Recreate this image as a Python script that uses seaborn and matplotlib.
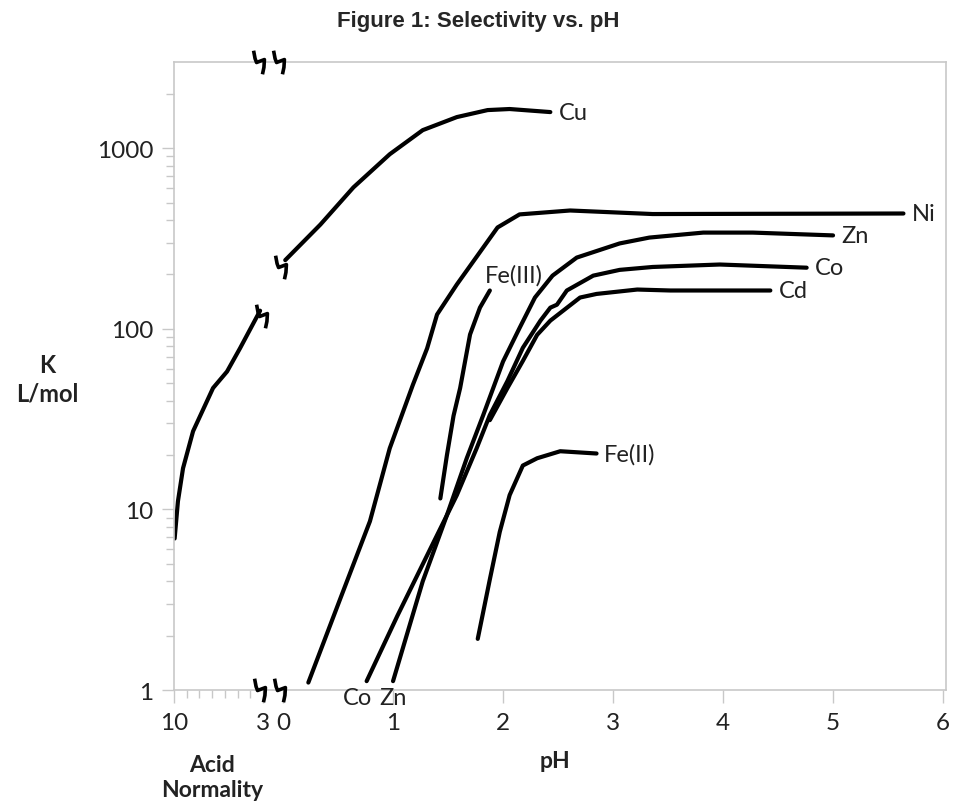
import numpy as np
import pandas as pd
import matplotlib
matplotlib.use("Agg")
import matplotlib.pyplot as plt
from matplotlib.path import Path
from matplotlib.ticker import FixedLocator, NullFormatter
import seaborn as sns

# Cu in strong acid (left strip, x = acid normality)
cu_acid_normality = [9.95, 9.69, 9.29, 8.5, 6.93, 5.83, 4.81, 3.23]
cu_acid_k = [6.9, 11.1, 16.9, 27.1, 47, 58, 78, 126]

# curves vs pH
cu_ph = [0.02, 0.34, 0.64, 0.97, 1.27, 1.58, 1.86, 2.06, 2.43]
cu_k = [240, 378, 607, 926, 1259, 1487, 1626, 1648, 1585]

ni_ph = [0.23, 0.52, 0.79, 0.97, 1.18, 1.31, 1.40, 1.58, 1.82, 1.95, 2.15, 2.61, 3.36, 5.64]
ni_k = [1.1, 3.2, 8.6, 21.8, 48.9, 78, 120, 176, 282, 364, 430, 452, 432, 435]

fe3_ph = [1.43, 1.49, 1.55, 1.61, 1.70, 1.79, 1.88]
fe3_k = [11.5, 20, 33, 47, 93, 131, 163]

zn_ph = [1.0, 1.27, 1.49, 1.67, 1.82, 2.0, 2.15, 2.29, 2.45, 2.67, 3.06, 3.33, 3.82, 4.27, 5.0]
zn_k = [1.12, 4.0, 9.3, 19.2, 33.3, 65.9, 101, 149, 197, 248, 297, 320, 341, 341, 329]

co_ph = [0.76, 1.04, 1.34, 1.58, 1.76, 1.88, 2.04, 2.18, 2.34, 2.43, 2.49, 2.58, 2.82, 3.06, 3.36, 3.97, 4.76]
co_k = [1.12, 2.58, 6.07, 12.0, 21.8, 33.3, 51.4, 78.5, 111, 131, 136, 163, 197, 212, 220, 227, 218]

cd_ph = [1.88, 2.04, 2.18, 2.31, 2.43, 2.7, 2.85, 3.22, 3.52, 4.43]
cd_k = [31.2, 47, 66.4, 92.6, 111, 149, 156, 165, 163, 163]

fe2_ph = [1.77, 1.88, 1.97, 2.06, 2.18, 2.31, 2.52, 2.85]
fe2_k = [1.92, 4.1, 7.5, 12, 17.5, 19.2, 21, 20.4]

ph_ticks = [0, 1, 2, 3, 4, 5, 6]
normality_ticks = [10, 9, 8, 7, 6, 5, 4, 3]


def norm_to_x(n):
    # acid normality 10..3 squeezed into the strip left of pH 0
    return -0.182 - (np.asarray(n, dtype=float) - 3) * 0.1156


segments = [
    ("Cu acid", norm_to_x(cu_acid_normality), cu_acid_k),
    ("Cu", cu_ph, cu_k),
    ("Ni", ni_ph, ni_k),
    ("Fe(III)", fe3_ph, fe3_k),
    ("Zn", zn_ph, zn_k),
    ("Co", co_ph, co_k),
    ("Cd", cd_ph, cd_k),
    ("Fe(II)", fe2_ph, fe2_k),
]
df = pd.concat([pd.DataFrame({"seg": s, "x": xs, "K": ks}) for s, xs, ks in segments],
               ignore_index=True)

sns.set_style("white")
plt.rcParams["font.family"] = ["Lato", "DejaVu Sans"]

fig = plt.figure(figsize=(9.55, 8.04), dpi=100)
ax = fig.add_axes([0.1822, 0.1405, 0.8084, 0.7811])

sns.lineplot(data=df, x="x", y="K", units="seg", estimator=None, sort=False,
             color="black", lw=3, solid_capstyle="round", solid_joinstyle="round",
             legend=False, ax=ax)

ax.set_yscale("log")
ax.set_ylim(1, 3000)
ax.set_xlim(float(norm_to_x(10)), 6.027)
ax.set_xlabel("")
ax.set_ylabel("")

grey = "#c8c8c8"
for sp in ax.spines.values():
    sp.set_visible(True)
    sp.set_color(grey)
    sp.set_linewidth(1.2)

ax.yaxis.set_major_locator(FixedLocator([1, 10, 100, 1000]))
ax.set_yticklabels(["1", "10", "100", "1000"])
minor_y = [k * 10 ** d for d in range(4) for k in range(2, 10) if k * 10 ** d < 3000]
ax.yaxis.set_minor_locator(FixedLocator(minor_y))
ax.yaxis.set_minor_formatter(NullFormatter())

major_x = list(norm_to_x([normality_ticks[0], normality_ticks[-1]])) + ph_ticks
ax.xaxis.set_major_locator(FixedLocator(major_x))
ax.set_xticklabels([str(normality_ticks[0]), str(normality_ticks[-1])] + [str(t) for t in ph_ticks])
ax.xaxis.set_minor_locator(FixedLocator(norm_to_x(normality_ticks[1:-1])))
ax.xaxis.set_minor_formatter(NullFormatter())

ax.tick_params(axis="both", which="both", bottom=True, left=True, top=False, right=False)
ax.tick_params(axis="both", which="major", direction="out", length=9, width=1,
               color=grey, labelsize=17.5, labelcolor="#222222")
ax.tick_params(axis="both", which="minor", direction="out", length=6, width=1, color=grey)
ax.tick_params(axis="y", which="major", pad=6)
ax.tick_params(axis="x", which="major", pad=7)

# hand-drawn break squiggle as a marker
squig = Path([(-6, 12), (-4.5, 4), (-3, 0), (5, 3), (4.5, -5), (3, -12)])


def brk(x, y):
    ax.plot([x], [y], marker=squig, ms=17, mfc="none", mec="black", mew=2.6,
            ls="none", clip_on=False, zorder=5)


for bx in (-0.22, -0.04):
    brk(bx, 3000)
for bx in (-0.21, -0.03):
    brk(bx, 1)
brk(norm_to_x(cu_acid_normality[-1]) + 0.02, cu_acid_k[-1] * 0.93)
brk(cu_ph[0] - 0.04, cu_k[0] * 0.92)

lab = dict(textcoords="offset points", va="center", fontsize=17, color="#222222")
ax.annotate("Cu", (cu_ph[-1], cu_k[-1]), xytext=(6, 0), ha="left", **lab)
ax.annotate("Ni", (ni_ph[-1], ni_k[-1]), xytext=(6, 0), ha="left", **lab)
ax.annotate("Zn", (zn_ph[-1], zn_k[-1]), xytext=(6, 0), ha="left", **lab)
ax.annotate("Co", (co_ph[-1], co_k[-1]), xytext=(6, 0), ha="left", **lab)
ax.annotate("Cd", (cd_ph[-1], cd_k[-1]), xytext=(6, 0), ha="left", **lab)
ax.annotate("Fe(II)", (fe2_ph[-1], fe2_k[-1]), xytext=(5, 0), ha="left", **lab)
ax.annotate("Fe(III)", (fe3_ph[-1], fe3_k[-1]), xytext=(17, 11), ha="center", **lab)
ax.annotate("Co", (co_ph[0], co_k[0]), xytext=(-6.5, -12), ha="center", **lab)
ax.annotate("Zn", (zn_ph[0], zn_k[0]), xytext=(0, -12), ha="center", **lab)

fig.text(47 / 955, 1 - 380 / 804, "K\nL/mol", ha="center", va="center",
         fontsize=17, fontweight="bold", linespacing=1.3, color="#222222")
fig.text(555 / 955, 1 - 762 / 804, "pH", ha="center", va="center",
         fontsize=16.5, fontweight="bold", color="#222222")
fig.text(212 / 955, 1 - 778 / 804, "Acid\nNormality", ha="center", va="center",
         fontsize=16.5, fontweight="bold", linespacing=1.25, color="#222222")
fig.text(478 / 955, 1 - 21 / 804, "Figure 1: Selectivity vs. pH", ha="center", va="center",
         fontsize=16, fontweight="bold",
         family=["Liberation Sans Narrow", "Liberation Sans", "DejaVu Sans"])

fig.savefig("out.png", dpi=100)
